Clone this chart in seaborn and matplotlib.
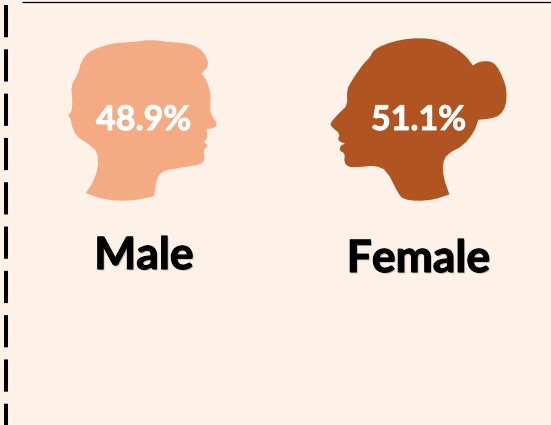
import numpy as np
import pandas as pd
import matplotlib
matplotlib.use('Agg')
import matplotlib.pyplot as plt
import matplotlib.patheffects as pe
from matplotlib.path import Path
import seaborn as sns

genders = ['Male', 'Female']
shares = [48.9, 51.1]

# silhouettes, used as scatter markers
# points given twice stay as sharp corners after smoothing
male_shape = [(190,38),(240,35),(300,28),(350,35),(400,38),(440,50),(462,75),(472,105),(450,130),(450,130),
              (465,150),(478,190),(475,235),(480,255),(497,280),(490,292),(465,297),(465,297),(468,325),
              (455,335),(470,345),(455,360),(460,385),(450,402),(400,410),(340,420),(320,435),
              (312,465),(308,497),(308,497),(260,508),(200,512),(150,505),(103,488),(103,488),(125,455),(140,410),
              (138,365),(110,340),(75,318),(60,285),(58,265),(48,255),(60,245),(63,215),(58,165),
              (80,130),(88,95),(110,65),(150,48)]
female_shape = [(160,60),(190,43),(240,28),(300,22),(360,30),(410,55),(440,80),(458,105),(458,105),(480,93),
                (510,92),(530,105),(550,145),(560,180),(558,225),(540,255),(510,265),(475,268),(475,268),
                (462,305),(430,345),(380,372),(368,400),(370,440),(388,492),(388,492),(340,508),(290,512),
                (250,506),(235,490),(200,420),(165,405),(120,410),(85,410),(72,395),(75,370),
                (58,360),(62,345),(75,340),(75,340),(52,330),(60,310),(35,290),(30,278),(60,245),(82,225),
                (80,180),(95,150),(130,100),(150,80)]

colors = {'Male': '#F4AB84', 'Female': '#B05521'}
background = '#FEF1E8'


def make_marker(shape):
    pts = np.array(shape, dtype=float)
    # one pass of corner cutting
    nxt = np.roll(pts, -1, axis=0)
    pts = np.column_stack([0.75 * pts + 0.25 * nxt, 0.25 * pts + 0.75 * nxt]).reshape(-1, 2)
    middle = (pts.max(axis=0) + pts.min(axis=0)) / 2
    pts = pts - middle
    half = np.abs(pts).max()
    pts = np.vstack([pts, pts[0]])
    pts = pts * np.array([1, -1])
    codes = [Path.MOVETO] + [Path.LINETO] * (len(pts) - 2) + [Path.CLOSEPOLY]
    return Path(pts, codes), half


sns.set_theme(style='white')
plt.rcParams['font.family'] = ['Lato', 'DejaVu Sans']

fig, ax = plt.subplots(figsize=(5.51, 4.25), dpi=100)
fig.subplots_adjust(0, 0, 1, 1)
fig.patch.set_facecolor(background)
ax.set_facecolor(background)
ax.set_xlim(0, 551)
ax.set_ylim(425, 0)
ax.axis('off')

df = pd.DataFrame({'gender': genders, 'share': shares, 'x': [141.7, 418.3], 'y': [120.3, 119.0]})
shapes = {'Male': male_shape, 'Female': female_shape}

for i, row in df.iterrows():
    marker, half = make_marker(shapes[row['gender']])
    # zoom crops were 3x, marker spans its full width in points
    size = (2 * half / 3 * 0.72) ** 2
    sns.scatterplot(data=df.iloc[[i]], x='x', y='y', marker=marker, s=size,
                    color=colors[row['gender']], linewidth=0, legend=False, ax=ax)

share_x = [143.5, 418.5]
name_x = [144, 418.5]
name_y = [256, 259]
for i, row in df.iterrows():
    ax.text(share_x[i], 120, f"{row['share']}%", color='white', fontsize=24.5, fontweight='bold',
            ha='center', va='center',
            path_effects=[pe.withStroke(linewidth=0.7, foreground='white')])
    ax.text(name_x[i], name_y[i], row['gender'], color='black', fontsize=32, fontweight='bold',
            ha='center', va='center',
            path_effects=[pe.withSimplePatchShadow(offset=(1, -1), shadow_rgbFace='#777777', alpha=0.5),
                          pe.withStroke(linewidth=0.8, foreground='black')])

# frame bits: rule on top, dashed rule on the left
ax.plot([22, 551], [1.5, 1.5], color='black', lw=0.9, solid_capstyle='butt')
ax.plot([6, 6], [5, 425], color='black', lw=2.9, linestyle=(0, (8, 3)), dash_capstyle='butt')

ax.set_xlabel('')
ax.set_ylabel('')
fig.savefig('out.png', dpi=100, facecolor=background)
